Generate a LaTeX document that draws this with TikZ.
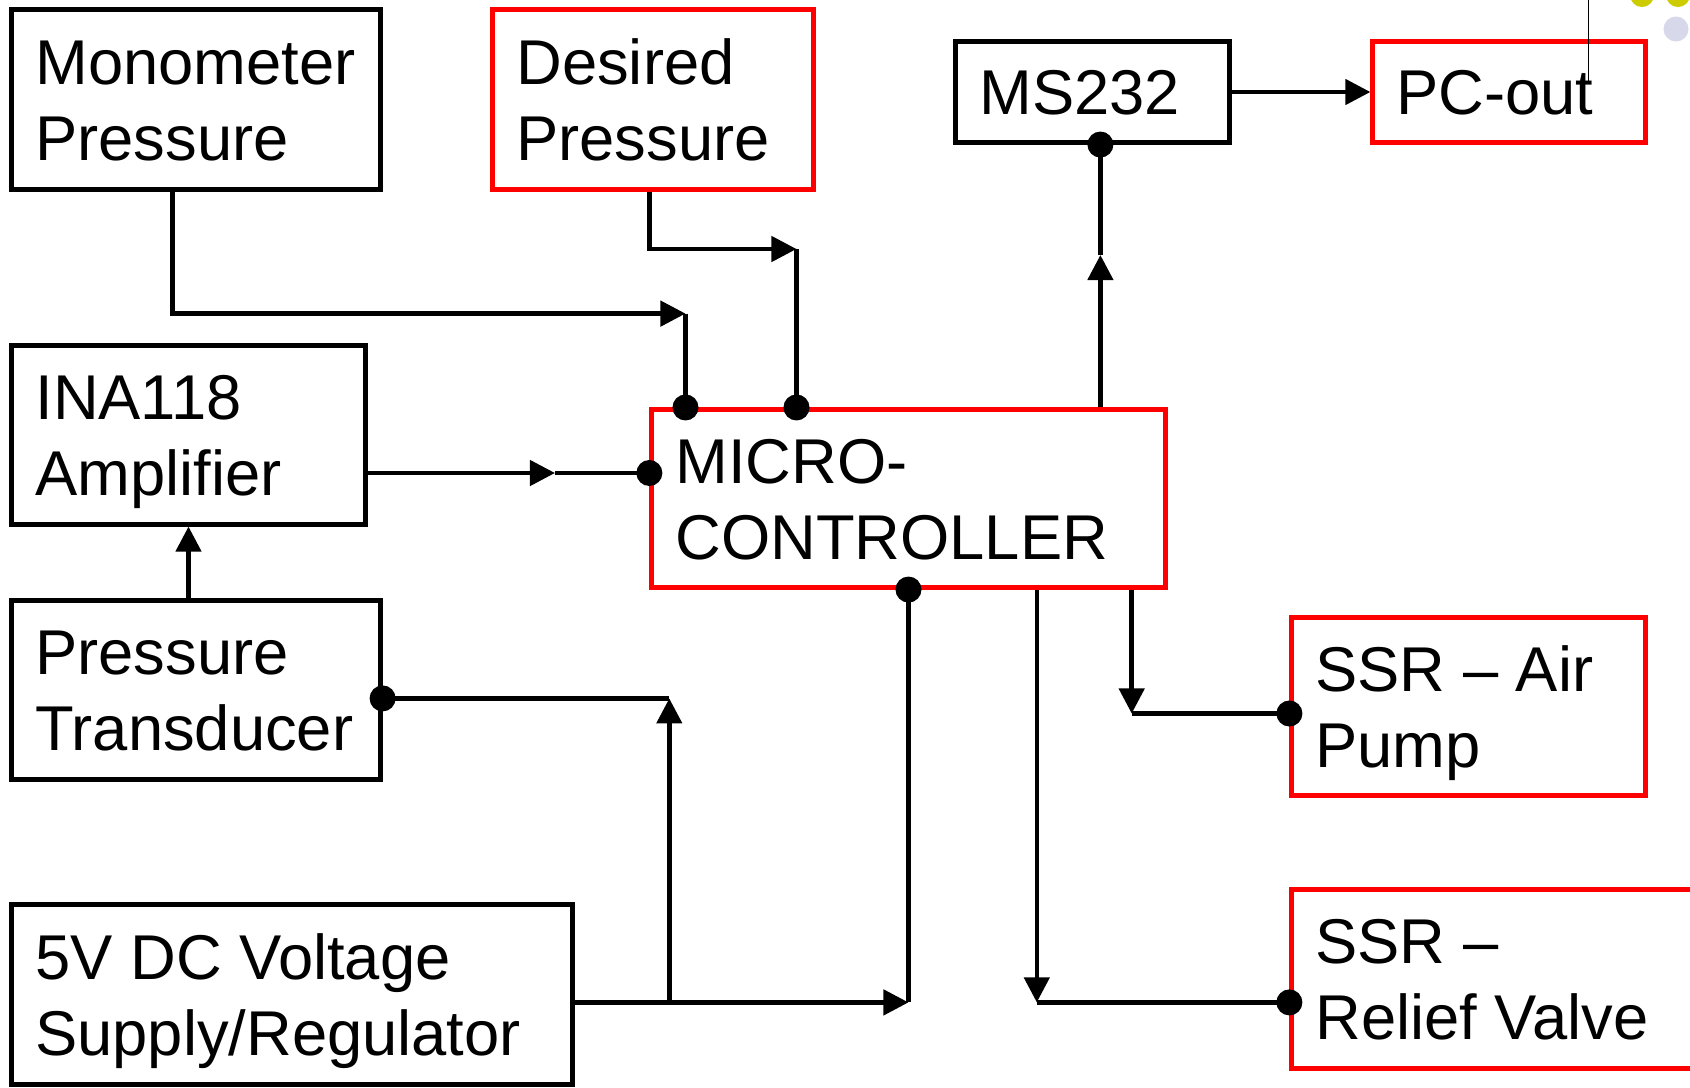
\documentclass[tikz,border=0pt]{standalone}
\usepackage{fontspec}
\setmainfont{Liberation Sans}
\usetikzlibrary{positioning,arrows.meta}
\hyphenpenalty=10000
\exhyphenpenalty=10000
\hbadness=10000
\hfuzz=30pt
\definecolor{dotyellow}{RGB}{204,204,0}
\definecolor{dotlilac}{RGB}{216,216,235}

\begin{document}
\begin{tikzpicture}[x=0.01cm,y=-0.01cm,line width=0.045cm,
  font=\fontsize{18pt}{21.7pt}\selectfont,
  box/.style 2 args={draw,line width=0.05cm,align=flush left,inner xsep=0.235cm,text width=#1,minimum height=#2,
    text height=12.9pt,text depth=21.7pt},
  oneline/.style={text depth=0pt},
  dot/.style={circle,fill,inner sep=0pt,minimum size=0.26cm},
  arr/.style={-{Triangle[length=0.25cm,width=0.25cm]}}]

\useasboundingbox (0,0) rectangle (1690,1087);
\clip (0,0) rectangle (1690,1087);

\node (mono) [box={3.21cm}{1.79cm}] at (196,99.5) {Monometer\\Pressure};
\node (desired) [box={2.73cm}{1.79cm},draw=red] at (653,99.5) {Desired\\Pressure};
\node (ms) [box={2.26cm}{1cm},oneline] at (1092.5,92) {MS232};
\node (pc) [box={2.25cm}{1cm},oneline,draw=red] at (1509,92) {PC-out};
\node (ina) [box={3.06cm}{1.78cm}] at (188.5,435) {INA118\\Amplifier};
\node (mcu) [box={4.66cm}{1.77cm},draw=red] at (908.5,498.5) {MICRO-\\CONTROLLER};
\node (pt) [box={3.21cm}{1.78cm}] at (196,690) {Pressure\\Transducer};
\node (air) [box={3.06cm}{1.77cm},draw=red] at (1468.5,706.5) {SSR -- Air\\Pump};
\node (supply) [box={5.13cm}{1.79cm}] at (292,994.5) {5V DC Voltage\\Supply/Regulator};
\node (valve) [box={3.61cm}{1.78cm},draw=red] at (1496,979) {SSR --\\Relief Valve};

% elbows
\coordinate (c1) at (685.5,313.6);
\coordinate (c2) at (796.5,249);
\coordinate (c3) at (555,473);
\coordinate (c4) at (669.3,698.4);
\coordinate (c5) at (669.3,1002.4);
\coordinate (c6) at (mcu.south |- c5);
\coordinate (c7) at (1100.4,255);
\coordinate (c8) at (1131.7,713.5);
\coordinate (c9) at (1036.8,1002.4);

% inputs
\draw[arr] ([xshift=-0.235cm]mono.south) |- (c1);
\draw (c1) -- (c1 |- mcu.north);
\draw[arr] (desired.south -| mcu.west) |- (c2);
\draw (c2) -- (c2 |- mcu.north);
\draw[arr] (ina.east |- c3) -- (c3);
\draw (c3) -- (mcu.west |- c3);
\draw[arr] (pt.north -| ina.south) -- (ina.south);
\draw (pt.east |- c4) -- (c4);
\draw[arr] (c5) -- (c4);
\draw[arr] (supply.east |- c5) -- (c6);
\draw (c6) -- (mcu.south);

% outputs
\draw[arr] (c7 |- mcu.north) -- (c7);
\draw (c7) -- (c7 |- ms.south);
\draw[arr] (ms.east) -- (pc.west);
\draw[arr] (c8 |- mcu.south) -- (c8);
\draw (c8) -- (air.west |- c8);
\draw[arr] (c9 |- mcu.south) -- (c9);
\draw (c9) -- (valve.west |- c9);

\node (d1) [dot] at (c1 |- mcu.north) {};
\node (d2) [dot] at (c2 |- mcu.north) {};
\node (d3) [dot] at (mcu.west |- c3) {};
\node (d4) [dot] at (c7 |- ms.south) {};
\node (d5) [dot] at (pt.east |- c4) {};
\node (d6) [dot] at (mcu.south) {};
\node (d7) [dot] at (air.west |- c8) {};
\node (d8) [dot] at (valve.west |- c9) {};

% corner bits
\draw[line width=0.013cm] (1588.5,0) -- (1588.5,82);
\fill[dotyellow] (1642,-5) circle (0.12cm);
\fill[dotyellow] (1678,-5) circle (0.12cm);
\fill[dotlilac] (1676,29) circle (0.125cm);

\end{tikzpicture}
\end{document}
